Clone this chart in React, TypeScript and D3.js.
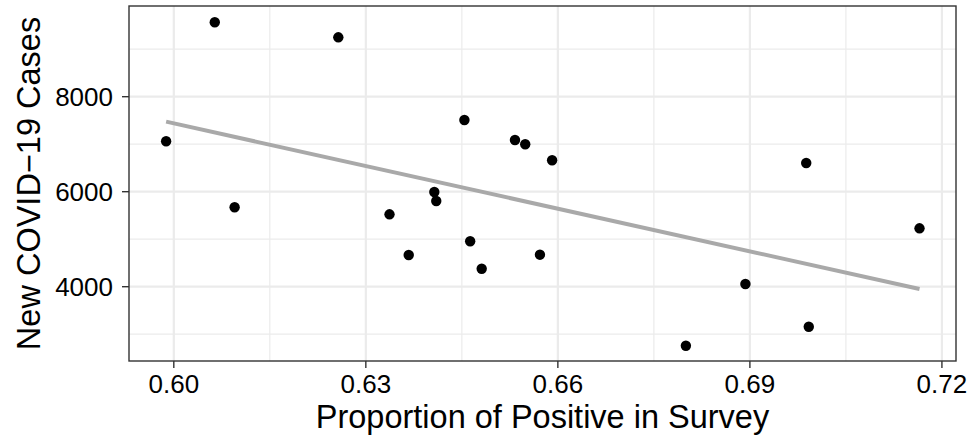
import * as d3 from "d3";

// proportion positive in survey
const propPositive = [
  0.5988, 0.6064, 0.6257, 0.6095, 0.6337, 0.6454, 0.6533, 0.6549, 0.6591, 0.6407,
  0.641, 0.6367, 0.6463, 0.6481, 0.6572, 0.6988, 0.7165, 0.6893, 0.6992, 0.68,
];
// new covid-19 cases
const newCases = [
  7061, 9566, 9250, 5672, 5524, 7509, 7088, 6998, 6661, 5994,
  5804, 4667, 4956, 4379, 4674, 6604, 5229, 4057, 3158, 2758,
];

const xTicks = [0.6, 0.63, 0.66, 0.69, 0.72];
const xMinor = [0.615, 0.645, 0.675, 0.705];
const yTicks = [4000, 6000, 8000];
const yMinor = [3000, 5000, 7000, 9000];

const W = 973;
const H = 439;
const left = 129, right = 956, top = 6, bottom = 361;

export default function App() {
  const x = d3.scaleLinear().domain([0.593, 0.7222]).range([left, right]);
  const y = d3.scaleLinear().domain([2436, 9909]).range([bottom, top]);

  // least-squares fit
  const mx = d3.mean(propPositive)!;
  const my = d3.mean(newCases)!;
  let sxy = 0, sxx = 0;
  propPositive.forEach((v, i) => {
    sxy += (v - mx) * (newCases[i] - my);
    sxx += (v - mx) * (v - mx);
  });
  const slope = sxy / sxx;
  const icpt = my - slope * mx;
  const [x0, x1] = d3.extent(propPositive) as [number, number];
  const fit = d3.line<number>().x(d => x(d)).y(d => y(icpt + slope * d))([x0, x1])!;

  const font = "'Liberation Sans', Arial, Helvetica, sans-serif";

  return (
    <svg width={W} height={H} style={{ position: "absolute", left: 0, top: 0, background: "#fff" }} fontFamily={font}>
      <rect x={left} y={top} width={right - left} height={bottom - top} fill="#fff" />
      {/* minor grid */}
      {xMinor.map(t => (
        <line key={"xm" + t} x1={x(t)} x2={x(t)} y1={top} y2={bottom} stroke="#ebebeb" strokeWidth={1.2} />
      ))}
      {yMinor.map(t => (
        <line key={"ym" + t} x1={left} x2={right} y1={y(t)} y2={y(t)} stroke="#ebebeb" strokeWidth={1.2} />
      ))}
      {/* major grid */}
      {xTicks.map(t => (
        <line key={"xg" + t} x1={x(t)} x2={x(t)} y1={top} y2={bottom} stroke="#ebebeb" strokeWidth={2.2} />
      ))}
      {yTicks.map(t => (
        <line key={"yg" + t} x1={left} x2={right} y1={y(t)} y2={y(t)} stroke="#ebebeb" strokeWidth={2.2} />
      ))}

      <path d={fit} stroke="#a9a9a9" strokeWidth={4} fill="none" />

      {propPositive.map((v, i) => (
        <circle key={i} cx={x(v)} cy={y(newCases[i])} r={5.2} fill="#000" />
      ))}

      <rect x={left} y={top} width={right - left} height={bottom - top} fill="none" stroke="#333" strokeWidth={1.4} />

      {/* x axis */}
      {xTicks.map(t => (
        <g key={"xt" + t}>
          <line x1={x(t)} x2={x(t)} y1={bottom} y2={bottom + 7} stroke="#333" strokeWidth={1.4} />
          <text x={x(t)} y={393} textAnchor="middle" fontSize={26} fill="#000">{d3.format(".2f")(t)}</text>
        </g>
      ))}
      {/* y axis */}
      {yTicks.map(t => (
        <g key={"yt" + t}>
          <line x1={left - 7} x2={left} y1={y(t)} y2={y(t)} stroke="#333" strokeWidth={1.4} />
          <text x={113} y={y(t)} dy="0.36em" textAnchor="end" fontSize={26} fill="#000">{t}</text>
        </g>
      ))}

      <text x={(left + right) / 2} y={428} textAnchor="middle" fontSize={32.5} fill="#000">
        Proportion of Positive in Survey
      </text>
      <text transform={`translate(40,${(top + bottom) / 2}) rotate(-90)`} textAnchor="middle" fontSize={32.5} fill="#000">
        New COVID−19 Cases
      </text>
    </svg>
  );
}
